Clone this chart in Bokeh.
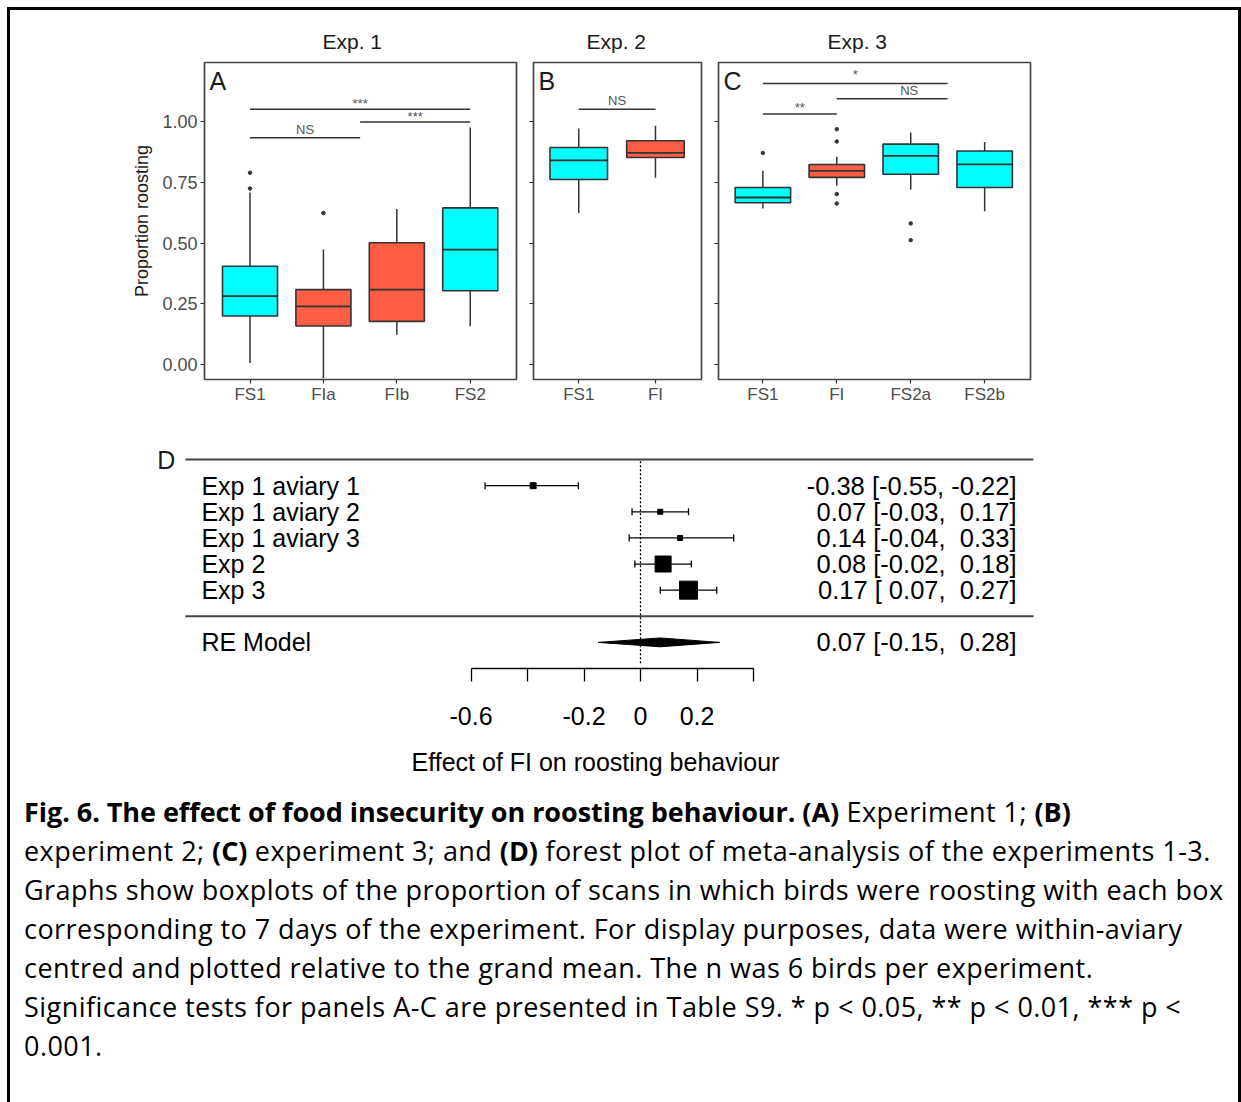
from bokeh.plotting import figure
from bokeh.layouts import column, row
from bokeh.models import (Div, Spacer, FixedTicker, Label, Range1d, Whisker, TeeHead,
                          NumeralTickFormatter, ColumnDataSource)
from bokeh.embed import file_html
from bokeh.resources import INLINE
from bokeh.core.properties import value

# ---------------- data ----------------
# Panel A (Exp. 1)
a_cats = ["FS1", "FIa", "FIb", "FS2"]
a_low = [0.005, -0.058, 0.122, 0.157]
a_q1 = [0.199, 0.158, 0.177, 0.303]
a_med = [0.281, 0.239, 0.308, 0.473]
a_q3 = [0.404, 0.308, 0.501, 0.645]
a_high = [0.709, 0.473, 0.640, 0.977]
a_group = ["FS", "FI", "FI", "FS"]
a_out_cat = ["FS1", "FS1", "FIa"]
a_out_val = [0.790, 0.725, 0.624]
a_sig = [("FS1", 2.5, 0.935, "NS"), (2.5, "FS2", 1.0, "***"), ("FS1", "FS2", 1.052, "***")]

# Panel B (Exp. 2)
b_cats = ["FS1", "FI"]
b_low = [0.624, 0.769]
b_q1 = [0.762, 0.853]
b_med = [0.841, 0.872]
b_q3 = [0.894, 0.922]
b_high = [0.973, 0.984]
b_group = ["FS", "FI"]
b_out_cat = []
b_out_val = []
b_sig = [("FS1", "FI", 1.052, "NS")]

# Panel C (Exp. 3)
c_cats = ["FS1", "FI", "FS2a", "FS2b"]
c_low = [0.643, 0.736, 0.721, 0.631]
c_q1 = [0.666, 0.771, 0.784, 0.729]
c_med = [0.688, 0.798, 0.860, 0.825]
c_q3 = [0.729, 0.824, 0.908, 0.880]
c_high = [0.798, 0.856, 0.956, 0.917]
c_group = ["FS", "FI", "FS", "FS"]
c_out_cat = ["FS1", "FI", "FI", "FI", "FI", "FS2a", "FS2a"]
c_out_val = [0.872, 0.970, 0.919, 0.702, 0.663, 0.581, 0.512]
c_sig = [("FS1", "FI", 1.033, "**"), ("FI", 3.5, 1.095, "NS"), ("FS1", 3.5, 1.158, "*")]

y_ticks = [0.0, 0.25, 0.50, 0.75, 1.00]

# Panel D (forest plot)
f_labels = ["Exp 1 aviary 1", "Exp 1 aviary 2", "Exp 1 aviary 3", "Exp 2", "Exp 3"]
f_est = [-0.38, 0.07, 0.14, 0.08, 0.17]
f_lo = [-0.55, -0.03, -0.04, -0.02, 0.07]
f_hi = [-0.22, 0.17, 0.33, 0.18, 0.27]
re_label = "RE Model"
re_est, re_lo, re_hi = 0.07, -0.15, 0.28
f_ticks = [-0.6, -0.4, -0.2, 0.0, 0.2, 0.4]
f_tick_labels = ["-0.6", "", "-0.2", "0", "0.2", ""]
ref_line = 0.0

# ---------------- styles ----------------
FONT = "Liberation Sans"
FILL = {"FS": "#00ffff", "FI": "#ff5e45"}
DARK = "#333333"
BOX_W = 0.75
Y_RANGE = (-0.063, 1.245)
square_px = [6, 5, 5, 16, 18]
# (x shift, y shift) in px for the significance labels
sig_label_shift = {"A": [(0, -8), (0, -5), (0, -6)], "B": [(0, -9)], "C": [(0, -6), (17, -8), (0, -9)]}


def box_panel(cats, low, q1, med, q3, high, group, out_cat, out_val, sig,
              xr, width, left, right, title, title_off, letter, show_labels, key):
    xs = list(range(1, len(cats) + 1))
    pos = {c: x for c, x in zip(cats, xs)}
    p = figure(width=width, height=400, x_range=Range1d(*xr), y_range=Range1d(*Y_RANGE),
               output_backend="svg", toolbar_location=None,
               min_border_left=left, min_border_right=right,
               min_border_top=52, min_border_bottom=31)
    p.title.text = title
    p.title.align = "left"
    p.title.offset = title_off
    p.title.text_font = FONT
    p.title.text_font_size = "21px"
    p.title.text_font_style = "normal"
    p.title.text_color = "#1a1a1a"
    p.title.standoff = 20
    p.xgrid.grid_line_color = None
    p.ygrid.grid_line_color = None
    p.outline_line_color = "#444444"
    p.outline_line_width = 1.7
    p.background_fill_color = "white"

    # whiskers
    p.segment(x0=xs, y0=q3, x1=xs, y1=high, line_color=DARK, line_width=1.5)
    p.segment(x0=xs, y0=q1, x1=xs, y1=low, line_color=DARK, line_width=1.5)
    # boxes
    p.vbar(x=xs, width=BOX_W, bottom=q1, top=q3,
           fill_color=[FILL[g] for g in group], line_color=DARK, line_width=1.6)
    # medians
    p.segment(x0=[x - BOX_W / 2 for x in xs], y0=med, x1=[x + BOX_W / 2 for x in xs], y1=med,
              line_color=DARK, line_width=1.8)
    # outliers
    if out_cat:
        p.scatter(x=[pos[c] for c in out_cat], y=out_val, size=3.5, color=DARK)

    # significance brackets
    def xv(v):
        return pos[v] if isinstance(v, str) else v
    sx0 = [xv(s[0]) for s in sig]
    sx1 = [xv(s[1]) for s in sig]
    lev = [s[2] for s in sig]
    p.segment(x0=sx0, y0=lev, x1=sx1, y1=lev, line_color=DARK, line_width=1.5)
    for (a, b, lv, txt), (dx, dy) in zip(sig, sig_label_shift[key]):
        p.text(x=[(xv(a) + xv(b)) / 2], y=[lv], text=[txt], x_offset=dx, y_offset=dy,
               text_align="center", text_baseline="middle",
               text_font=value(FONT), text_font_size="13px", text_color="#555555")

    # panel letter
    p.add_layout(Label(x=xr[0], y=Y_RANGE[1], x_offset=5, y_offset=-4, text=letter,
                       text_baseline="top", text_align="left", text_font=FONT,
                       text_font_size="25px", text_color="#1a1a1a"))

    # axes
    p.xaxis.ticker = FixedTicker(ticks=xs)
    p.xaxis.major_label_overrides = {x: c for x, c in zip(xs, cats)}
    p.yaxis.ticker = FixedTicker(ticks=y_ticks)
    for ax in (p.xaxis[0], p.yaxis[0]):
        ax.axis_line_color = None
        ax.major_tick_out = 4
        ax.major_tick_in = 0
        ax.minor_tick_line_color = None
        ax.major_tick_line_color = DARK
        ax.major_tick_line_width = 1.2
        ax.major_label_text_font = FONT
        ax.major_label_text_font_size = "17px"
        ax.major_label_text_color = "#4d4d4d"
    p.xaxis.major_label_standoff = 1
    if show_labels:
        p.yaxis.formatter = NumeralTickFormatter(format="0.00")
        p.yaxis.major_label_text_font_size = "18px"
        p.yaxis.major_label_standoff = 3
        p.yaxis.axis_label = "Proportion roosting"
        p.yaxis.axis_label_text_font = FONT
        p.yaxis.axis_label_text_font_size = "18px"
        p.yaxis.axis_label_text_font_style = "normal"
        p.yaxis.axis_label_text_color = "#1a1a1a"
        p.yaxis.axis_label_standoff = 7
    else:
        p.yaxis.major_label_overrides = {t: "" for t in y_ticks}
        p.yaxis.major_label_standoff = 0
    return p


pa = box_panel(a_cats, a_low, a_q1, a_med, a_q3, a_high, a_group, a_out_cat, a_out_val, a_sig,
               (0.38, 4.63), 514, 194, 8, "Exp. 1", 118, "A", True, "A")
pb = box_panel(b_cats, b_low, b_q1, b_med, b_q3, b_high, b_group, b_out_cat, b_out_val, b_sig,
               (0.41, 2.6), 185, 9, 8, "Exp. 2", 53, "B", False, "B")
pc = box_panel(c_cats, c_low, c_q1, c_med, c_q3, c_high, c_group, c_out_cat, c_out_val, c_sig,
               (0.40, 4.62), 529, 9, 208, "Exp. 3", 109, "C", False, "C")

# ---------------- forest plot ----------------
XLIM = (-1.611, 1.391)
k = len(f_labels)
rows = [k - i for i in range(k)]
re_row = -1
pf = figure(width=1228, height=382, x_range=Range1d(-1.7345, 1.4159), y_range=Range1d(-2, 6.5),
            output_backend="svg", toolbar_location=None,
            min_border_left=140, min_border_right=198, min_border_top=36, min_border_bottom=124)
pf.outline_line_color = None
pf.xgrid.grid_line_color = None
pf.ygrid.grid_line_color = None
pf.yaxis.visible = False

pf.segment(x0=[XLIM[0], XLIM[0]], y0=[k + 1, 0], x1=[XLIM[1], XLIM[1]], y1=[k + 1, 0],
           line_color="#444444", line_width=2)
pf.segment(x0=[ref_line], y0=[-1.8], x1=[ref_line], y1=[k + 1], line_color="black",
           line_width=1.3, line_dash="2 2")

src = ColumnDataSource(dict(y=rows, lo=f_lo, hi=f_hi))
pf.add_layout(Whisker(source=src, base="y", lower="lo", upper="hi", dimension="width",
                      line_color="black", line_width=1.3,
                      lower_head=TeeHead(size=7, line_width=1.3, line_color="black"),
                      upper_head=TeeHead(size=7, line_width=1.3, line_color="black")))
pf.scatter(x=f_est, y=rows, marker="square", size=square_px, color="black")
h = 0.17
pf.patch(x=[re_lo, re_est, re_hi, re_est], y=[re_row, re_row + h, re_row, re_row - h], color="black")

pf.text(x=[XLIM[0]] * (k + 1), y=rows + [re_row], text=f_labels + [re_label], x_offset=16,
        text_align="left", text_baseline="middle", text_font=value(FONT),
        text_font_size="25px", text_color="black")

NBSP = "\u00a0"


def fmt(v):
    return f"{v:5.2f}".replace(" ", NBSP)


ann = [f"{e:.2f} [{fmt(l)},{NBSP}{fmt(u)}]" for e, l, u in zip(f_est, f_lo, f_hi)]
ann.append(f"{re_est:.2f} [{fmt(re_lo)},{NBSP}{fmt(re_hi)}]")
pf.text(x=[XLIM[1]] * (k + 1), y=rows + [re_row], text=ann, x_offset=-17,
        text_align="right", text_baseline="middle", text_font=value(FONT),
        text_font_size="25.5px", text_color="black")
pf.text(x=[XLIM[0]], y=[k + 1], text=["D"], x_offset=-10, text_align="right",
        text_baseline="middle", text_font=value(FONT), text_font_size="25px", text_color="#1a1a1a")

ax = pf.xaxis[0]
ax.bounds = (f_ticks[0], f_ticks[-1])
ax.ticker = FixedTicker(ticks=f_ticks)
ax.major_label_overrides = {t: l for t, l in zip(f_ticks, f_tick_labels)}
ax.axis_line_color = "black"
ax.axis_line_width = 1.3
ax.major_tick_line_color = "black"
ax.major_tick_line_width = 1.3
ax.major_tick_out = 13
ax.major_tick_in = 0
ax.minor_tick_line_color = None
ax.major_label_text_font = FONT
ax.major_label_text_font_size = "25px"
ax.major_label_text_color = "black"
ax.major_label_standoff = 25
ax.axis_label = "Effect of FI on roosting behaviour"
ax.axis_label_text_font = FONT
ax.axis_label_text_font_size = "25px"
ax.axis_label_text_font_style = "normal"
ax.axis_label_text_color = "black"
ax.axis_label_standoff = 20

# ---------------- caption ----------------
B0 = '<b style="letter-spacing:-0.05px">'
caption_lines = [
    B0 + "Fig. 6. The effect of food insecurity on roosting behaviour. (A)</b> Experiment 1; " + B0 + "(B)</b>",
    "experiment 2; " + B0 + "(C)</b> experiment 3; and " + B0 + "(D)</b> forest plot of meta-analysis of the experiments 1-3.",
    "Graphs show boxplots of the proportion of scans in which birds were roosting with each box",
    "corresponding to 7 days of the experiment. For display purposes, data were within-aviary",
    "centred and plotted relative to the grand mean. The n was 6 birds per experiment.",
    "Significance tests for panels A-C are presented in Table S9. * p &lt; 0.05, ** p &lt; 0.01, *** p &lt;",
    "0.001.",
]
cap_html = ('<div style="padding-left:14px;font-family:\'Open Sans\';font-size:27px;line-height:39px;'
            'letter-spacing:0.45px;color:black;white-space:nowrap;">' + "<br>".join(caption_lines) + "</div>")
caption = Div(text=cap_html, width=1228, height=300, margin=0)

content = column(row(pa, pb, pc), pf, caption)


def bar(w, hgt):
    return Div(text="", width=w, height=hgt, margin=0, styles={"background-color": "black"})


root = column(
    Spacer(width=1241, height=7),
    row(Spacer(width=7, height=3), bar(1234, 3)),
    row(Spacer(width=7, height=1092), bar(3, 1092), content, bar(3, 1092)),
)

open("out.html", "w").write(file_html(root, INLINE))
